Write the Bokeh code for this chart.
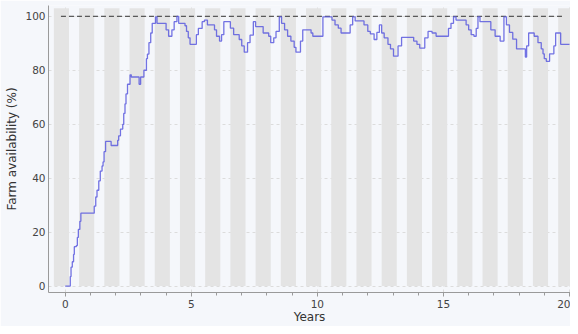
from bokeh.plotting import figure
from bokeh.embed import file_html
from bokeh.resources import INLINE
from bokeh.models import Range1d, FixedTicker

# Data: farm availability (%) over time (years), step series
years = [0.0, 0.20, 0.23, 0.28, 0.33, 0.36, 0.44, 0.48, 0.52, 0.58, 0.62,
         1.15, 1.21, 1.26, 1.33, 1.39, 1.46, 1.50, 1.54, 1.60, 1.82,
         2.08, 2.12, 2.19, 2.28, 2.32, 2.37, 2.41, 2.47, 2.57, 2.62, 2.93, 2.99,
         3.12, 3.22, 3.26, 3.32, 3.39, 3.45, 3.58, 3.64,
         4.00, 4.10, 4.23, 4.32, 4.43, 4.50, 4.75, 4.81, 4.88, 4.95,
         5.20, 5.28, 5.43, 5.52, 5.64, 5.92,
         6.00, 6.12, 6.20, 6.29, 6.55, 6.68, 6.90, 7.00, 7.10, 7.23, 7.33, 7.46,
         7.55, 7.85, 8.07, 8.15, 8.27, 8.36, 8.49, 8.58, 8.70, 8.82, 8.95,
         9.08, 9.15, 9.33, 9.42, 9.75, 9.82,
         10.22, 10.58, 10.70, 10.83, 10.94, 11.30, 11.40, 11.50, 11.85,
         12.00, 12.10, 12.25, 12.36, 12.46, 12.55, 12.65, 12.80, 12.90,
         13.02, 13.20, 13.34, 13.82, 13.95,
         14.06, 14.26, 14.39, 14.55, 14.71,
         15.20, 15.30, 15.40, 15.50, 15.90,
         16.00, 16.10, 16.21, 16.30, 16.37, 16.45, 16.88,
         17.05, 17.25, 17.40, 17.50, 17.62, 17.75, 17.90,
         18.25, 18.30, 18.38, 18.60, 18.75, 18.88, 18.95,
         19.00, 19.08, 19.21, 19.38, 19.45, 19.65, 20.00]
availability = [0, 3.5, 7, 9, 11.7, 14.6, 15, 18, 21, 24, 27,
                29.6, 33, 35.5, 39, 42.6, 44.5, 46, 49.8, 53.6, 52.1,
                54, 55.7, 58.2, 59.9, 64, 67.5, 71.2, 74.8, 78.3, 77.5, 74.8, 77.5,
                80, 84.3, 86, 90.2, 93.8, 97.4, 99.8, 97.4,
                95, 92.6, 95, 98, 100, 97.4, 96.5, 94.4, 92, 89.6,
                93.2, 95.5, 98, 98.6, 96.8, 95,
                92.6, 90.8, 93.2, 98, 95.6, 93.2, 91.4, 89, 86.7, 90.2, 93, 98,
                96.2, 93.8, 92.6, 90.2, 92, 94.4, 99.8, 97.4, 95, 92.6, 90.8,
                88.5, 86.7, 90.8, 95, 93.8, 92.6,
                99.8, 98.6, 96.8, 95.6, 93.8, 96.8, 99.8, 98.3, 96.8,
                94.4, 93.5, 91.4, 94, 96.8, 93.8, 92, 89.6, 87.9,
                85.2, 89, 92.2, 90.8, 89.6,
                88.2, 92, 94.4, 93.8, 92.6,
                95.5, 97.4, 99.8, 98.6, 96.8,
                95, 93.2, 92.6, 95.5, 99.8, 98, 95,
                92.6, 90.8, 99.8, 96.8, 94, 91.5, 87.9,
                84.9, 89, 93.8, 92.6, 90.2, 87.9, 86.1,
                84.3, 83.3, 86.1, 89, 93.8, 89.6, 89.6]

# Shaded seasonal periods (start/end in years)
season_index = list(range(-1, 20))
band_start = [n + 0.55 for n in season_index]
band_end = [n + 1.15 for n in season_index]
band_bottom = [0.0] * len(season_index)
band_top = [103.0] * len(season_index)

# Target (100 %) reference line
target_x = [-0.17, 19.8]
target_y = [100, 100]

x_ticks = [0, 5, 10, 15, 20]
y_ticks = [0, 20, 40, 60, 80, 100]

BG = "#f5f7fb"
FONT = "DejaVu Sans"

p = figure(width=570, height=326, output_backend="svg", toolbar_location=None,
           x_range=Range1d(-0.664, 20.04), y_range=Range1d(-2.4, 104.0),
           min_border_left=48, min_border_right=0, min_border_top=5, min_border_bottom=33)
p.background_fill_color = BG
p.border_fill_color = BG
p.outline_line_color = None

p.quad(left=band_start, right=band_end, bottom=band_bottom, top=band_top,
       fill_color="#e4e4e4", line_color=None)

p.line(target_x, target_y, line_color="#333333", line_width=1, line_dash="5 3")

p.step(years, availability, mode="after", line_color="#5a5ade", line_width=1.3, line_alpha=0.85)

# Grid
p.ygrid.ticker = FixedTicker(ticks=y_ticks)
p.ygrid.grid_line_color = "#dcdcdc"
p.ygrid.grid_line_dash = "3 3"
p.xgrid.ticker = FixedTicker(ticks=x_ticks)
p.xgrid.grid_line_color = "#dcdcdc"
p.xgrid.grid_line_dash = "3 3"

# Axes
p.xaxis.ticker = FixedTicker(ticks=x_ticks, minor_ticks=list(range(0, 21)))
p.yaxis.ticker = FixedTicker(ticks=y_ticks)
p.xaxis.axis_label = "Years"
p.yaxis.axis_label = "Farm availability (%)"
for ax in (p.xaxis, p.yaxis):
    ax.axis_label_text_font = FONT
    ax.axis_label_text_font_size = "12px"
    ax.axis_label_text_font_style = "normal"
    ax.axis_label_text_color = "#333333"
    ax.major_label_text_font = FONT
    ax.major_label_text_font_size = "10.5px"
    ax.major_label_text_color = "#444444"
    ax.axis_line_color = "#9a9a9a"
    ax.major_tick_line_color = "#9a9a9a"
    ax.minor_tick_line_color = "#9a9a9a"
p.xaxis.major_tick_out = 4
p.xaxis.major_tick_in = 0
p.xaxis.minor_tick_out = 3
p.xaxis.minor_tick_in = 0
p.xaxis.major_label_standoff = 3
p.xaxis.axis_label_standoff = -1
p.yaxis.major_tick_out = 0
p.yaxis.major_tick_in = 0
p.yaxis.minor_tick_line_color = None
p.yaxis.major_label_standoff = 3
p.yaxis.axis_label_standoff = 3

open("out.html", "w").write(file_html(p, INLINE))
